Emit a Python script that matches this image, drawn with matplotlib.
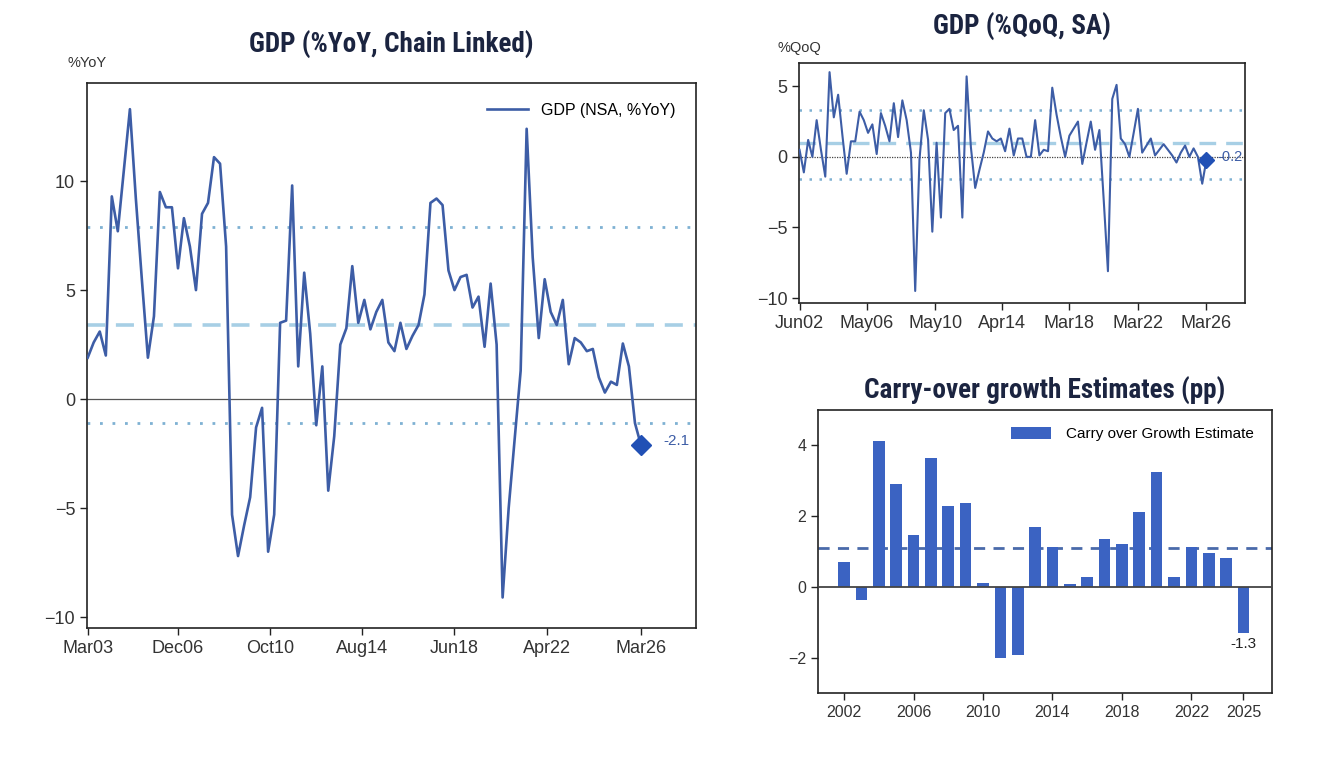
import numpy as np
import pandas as pd
import matplotlib
matplotlib.use('Agg')
import matplotlib.pyplot as plt
import matplotlib.dates as mdates
from matplotlib import font_manager
from matplotlib.font_manager import FontProperties

# ---------------- data ----------------
yoy_values = [1.9, 2.6, 3.1, 2.0, 9.3, 7.7, 10.5, 13.3, 9.2, 5.5,
              1.9, 3.8, 9.5, 8.8, 8.8, 6.0, 8.3, 7.0, 5.0, 8.5,
              9.0, 11.1, 10.8, 7.0, -5.3, -7.2, -5.8, -4.5, -1.3, -0.4,
              -7.0, -5.3, 3.5, 3.6, 9.8, 1.5, 5.8, 3.0, -1.2, 1.5,
              -4.2, -1.7, 2.5, 3.25, 6.1, 3.5, 4.55, 3.2, 4.0, 4.55,
              2.6, 2.2, 3.5, 2.3, 2.9, 3.4, 4.8, 9.0, 9.2, 8.9,
              5.9, 5.0, 5.6, 5.7, 4.2, 4.7, 2.4, 5.3, 2.5, -9.1,
              -5.0, -1.8, 1.3, 12.4, 6.5, 2.8, 5.5, 4.0, 3.4, 4.55,
              1.6, 2.8, 2.6, 2.2, 2.3, 1.0, 0.3, 0.8, 0.65, 2.55,
              1.5, -1.1, -2.1]
yoy_start = '2003-03-31'
yoy_mean, yoy_upper, yoy_lower = 3.4, 7.9, -1.1
yoy_tick_dates = ['2003-03-31', '2006-12-31', '2010-10-31', '2014-08-31',
                  '2018-06-30', '2022-04-30', '2026-03-31']
yoy_xlim = ['2003-03-20', '2028-07-15']
yoy_label = 'GDP (NSA, %YoY)'

qoq_values = [0.5, -1.1, 1.2, 0.0, 2.6, 0.5, -1.4, 6.0, 2.8, 4.4,
              1.5, -1.2, 1.1, 1.1, 3.2, 2.6, 1.7, 2.3, 0.2, 3.1,
              2.2, 1.1, 3.8, 1.4, 4.0, 2.6, 0.3, -9.5, -0.2, 3.3,
              1.2, -5.3, 1.0, -4.3, 3.1, 3.4, 1.9, 2.2, -4.3, 5.7,
              0.7, -2.2, -0.9, 0.3, 1.8, 1.3, 1.1, 1.3, 0.4, 2.0,
              0.1, 1.3, 1.3, 0.0, 0.0, 2.6, 0.1, 0.5, 0.4, 4.9,
              3.0, 1.4, 0.0, 1.5, 2.0, 2.5, -0.5, 1.0, 2.5, 0.5,
              1.9, -3.0, -8.1, 4.1, 5.1, 1.3, 0.9, 0.0, 1.7, 3.4,
              0.3, 0.8, 1.3, 0.1, 0.5, 0.9, 0.5, 0.1, -0.4, 0.3,
              0.8, 0.0, 0.6, 0.0, -1.9, -0.2]
qoq_start = '2002-06-30'
qoq_mean, qoq_upper, qoq_lower = 1.0, 3.3, -1.55
qoq_tick_dates = ['2002-06-30', '2006-05-31', '2010-05-31', '2014-04-30',
                  '2018-03-31', '2022-03-31', '2026-03-31']
qoq_xlim = ['2002-06-20', '2028-06-30']

carry_years = list(range(2002, 2026))
carry_values = [0.70, -0.36, 4.12, 2.92, 1.47, 3.64, 2.28, 2.38, 0.11, -2.02,
                -1.93, 1.70, 1.12, 0.07, 0.28, 1.36, 1.21, 2.12, 3.26, 0.28,
                1.12, 0.97, 0.81, -1.31]
carry_mean = 1.09
carry_ticks = [2002, 2006, 2010, 2014, 2018, 2022, 2025]
carry_label = 'Carry over Growth Estimate'

# ---------------- fonts ----------------
names = {f.name for f in font_manager.fontManager.ttflist}
base_font = 'Liberation Sans' if 'Liberation Sans' in names else 'DejaVu Sans'
plt.rcParams['font.family'] = [base_font, 'DejaVu Sans']

def find_title_font():
    prefs = ['Liberation Sans Narrow', 'Arial Narrow', 'Nimbus Sans Narrow',
             'Roboto Condensed', 'PT Sans Narrow', 'Asap Condensed',
             'Barlow Semi Condensed']
    for p in prefs:
        for f in font_manager.fontManager.ttflist:
            if (f.name == p and f.weight in (700, 'bold') and f.style == 'normal'
                    and '[' not in f.fname):
                return FontProperties(fname=f.fname)
    return FontProperties(family=base_font, weight='bold')

title_fp = find_title_font()
TITLE_SIZE = 19.5

LINE = '#3d5da6'
DIAM = '#2150b5'
DOT = '#7eb1d3'
DASH = '#a7cfe5'
TITLE = '#1b2440'
TICK = '#333333'
BAR = '#3b63c2'

fig = plt.figure(figsize=(13.28, 7.68), dpi=100)
fig.patch.set_facecolor('white')

def style_axes(ax, lsize):
    for s in ax.spines.values():
        s.set_color('#222222')
        s.set_linewidth(1.2)
    ax.tick_params(axis='both', direction='out', length=5, width=1.0,
                   colors='#222222', labelcolor=TICK, labelsize=lsize)

def set_title(ax, text, pad):
    t = ax.set_title(text, color=TITLE, pad=pad)
    t.set_fontproperties(title_fp)
    t.set_fontsize(TITLE_SIZE)

# ---------- left: YoY ----------
ax1 = fig.add_axes([0.0655, 0.1823, 0.4586, 0.7096])
yoy_dates = pd.date_range(yoy_start, periods=len(yoy_values), freq='QE')
ax1.axhline(0, color='#555555', lw=0.9, zorder=1)
ax1.axhline(yoy_upper, color=DOT, lw=2.0, ls=(0, (1, 3.5)), zorder=1)
ax1.axhline(yoy_lower, color=DOT, lw=2.0, ls=(0, (1, 3.5)), zorder=1)
ax1.axhline(yoy_mean, color=DASH, lw=2.6, ls=(0, (5, 3)), zorder=1)
ax1.plot(yoy_dates, yoy_values, color=LINE, lw=1.9, label=yoy_label, zorder=3)
ax1.plot(yoy_dates[-1], yoy_values[-1], marker='D', ms=10, color=DIAM, zorder=4)
ax1.annotate(f'{yoy_values[-1]:.1f}', (yoy_dates[-1], yoy_values[-1]),
             xytext=(16, 3), textcoords='offset points', color=LINE,
             fontsize=11, va='center', ha='left')
ax1.set_ylim(-10.5, 14.5)
ax1.set_yticks([-10, -5, 0, 5, 10])
ax1.set_xlim(pd.Timestamp(yoy_xlim[0]), pd.Timestamp(yoy_xlim[1]))
ax1.set_xticks([pd.Timestamp(d) for d in yoy_tick_dates])
ax1.xaxis.set_major_formatter(mdates.DateFormatter('%b%y'))
style_axes(ax1, 13)
ax1.legend(loc='upper right', frameon=False, fontsize=11.5, handlelength=2.6,
           bbox_to_anchor=(0.99, 0.99))
set_title(ax1, 'GDP (%YoY, Chain Linked)', 22)
ax1.text(0.0, 1.037, '%YoY', transform=ax1.transAxes, ha='center', va='center',
         fontsize=10.5, color=TICK)

# ---------- top right: QoQ ----------
ax2 = fig.add_axes([0.6017, 0.6055, 0.3358, 0.3125])
qoq_dates = pd.date_range(qoq_start, periods=len(qoq_values), freq='QE')
ax2.axhline(0, color='#444444', lw=0.9, ls=(0, (1, 1)), zorder=1)
ax2.axhline(qoq_upper, color=DOT, lw=1.8, ls=(0, (1, 3)), zorder=1)
ax2.axhline(qoq_lower, color=DOT, lw=1.8, ls=(0, (1, 3)), zorder=1)
ax2.axhline(qoq_mean, color=DASH, lw=2.4, ls=(0, (5, 3)), zorder=1)
ax2.plot(qoq_dates, qoq_values, color=LINE, lw=1.5, zorder=3)
ax2.plot(qoq_dates[-1], qoq_values[-1], marker='D', ms=8.5, color=DIAM, zorder=4)
ax2.annotate(f'{qoq_values[-1]:.1f}', (qoq_dates[-1], qoq_values[-1]),
             xytext=(8, 2), textcoords='offset points', color=LINE,
             fontsize=10.5, va='center', ha='left')
ax2.set_ylim(-10.35, 6.65)
ax2.set_yticks([-10, -5, 0, 5])
ax2.set_xlim(pd.Timestamp(qoq_xlim[0]), pd.Timestamp(qoq_xlim[1]))
ax2.set_xticks([pd.Timestamp(d) for d in qoq_tick_dates])
ax2.xaxis.set_major_formatter(mdates.DateFormatter('%b%y'))
style_axes(ax2, 13)
set_title(ax2, 'GDP (%QoQ, SA)', 20)
ax2.text(0.0, 1.0625, '%QoQ', transform=ax2.transAxes, ha='center', va='center',
         fontsize=10.5, color=TICK)

# ---------- bottom right: carry-over ----------
ax3 = fig.add_axes([0.616, 0.0977, 0.3419, 0.3685])
ax3.bar(carry_years, carry_values, width=0.67, color=BAR, label=carry_label,
        zorder=2)
ax3.axhline(0, color='#444444', lw=1.3, zorder=3)
ax3.axhline(carry_mean, color='#4a6aaa', lw=2.0, ls=(0, (4, 3)), zorder=1)
ax3.annotate(f'{carry_values[-1]:.1f}', (carry_years[-1], carry_values[-1]),
             xytext=(0, -3), textcoords='offset points', ha='center', va='top',
             fontsize=11, color='#222222')
ax3.set_ylim(-3, 5)
ax3.set_yticks([-2, 0, 2, 4])
ax3.set_xlim(2000.5, 2026.65)
ax3.set_xticks(carry_ticks)
style_axes(ax3, 11.5)
ax3.legend(loc='upper right', frameon=False, fontsize=11, handlelength=2.6,
           handleheight=0.85, handletextpad=1.0, bbox_to_anchor=(0.99, 0.99))
set_title(ax3, 'Carry-over growth Estimates (pp)', 8)

fig.savefig('out.png', dpi=100, facecolor='white')
